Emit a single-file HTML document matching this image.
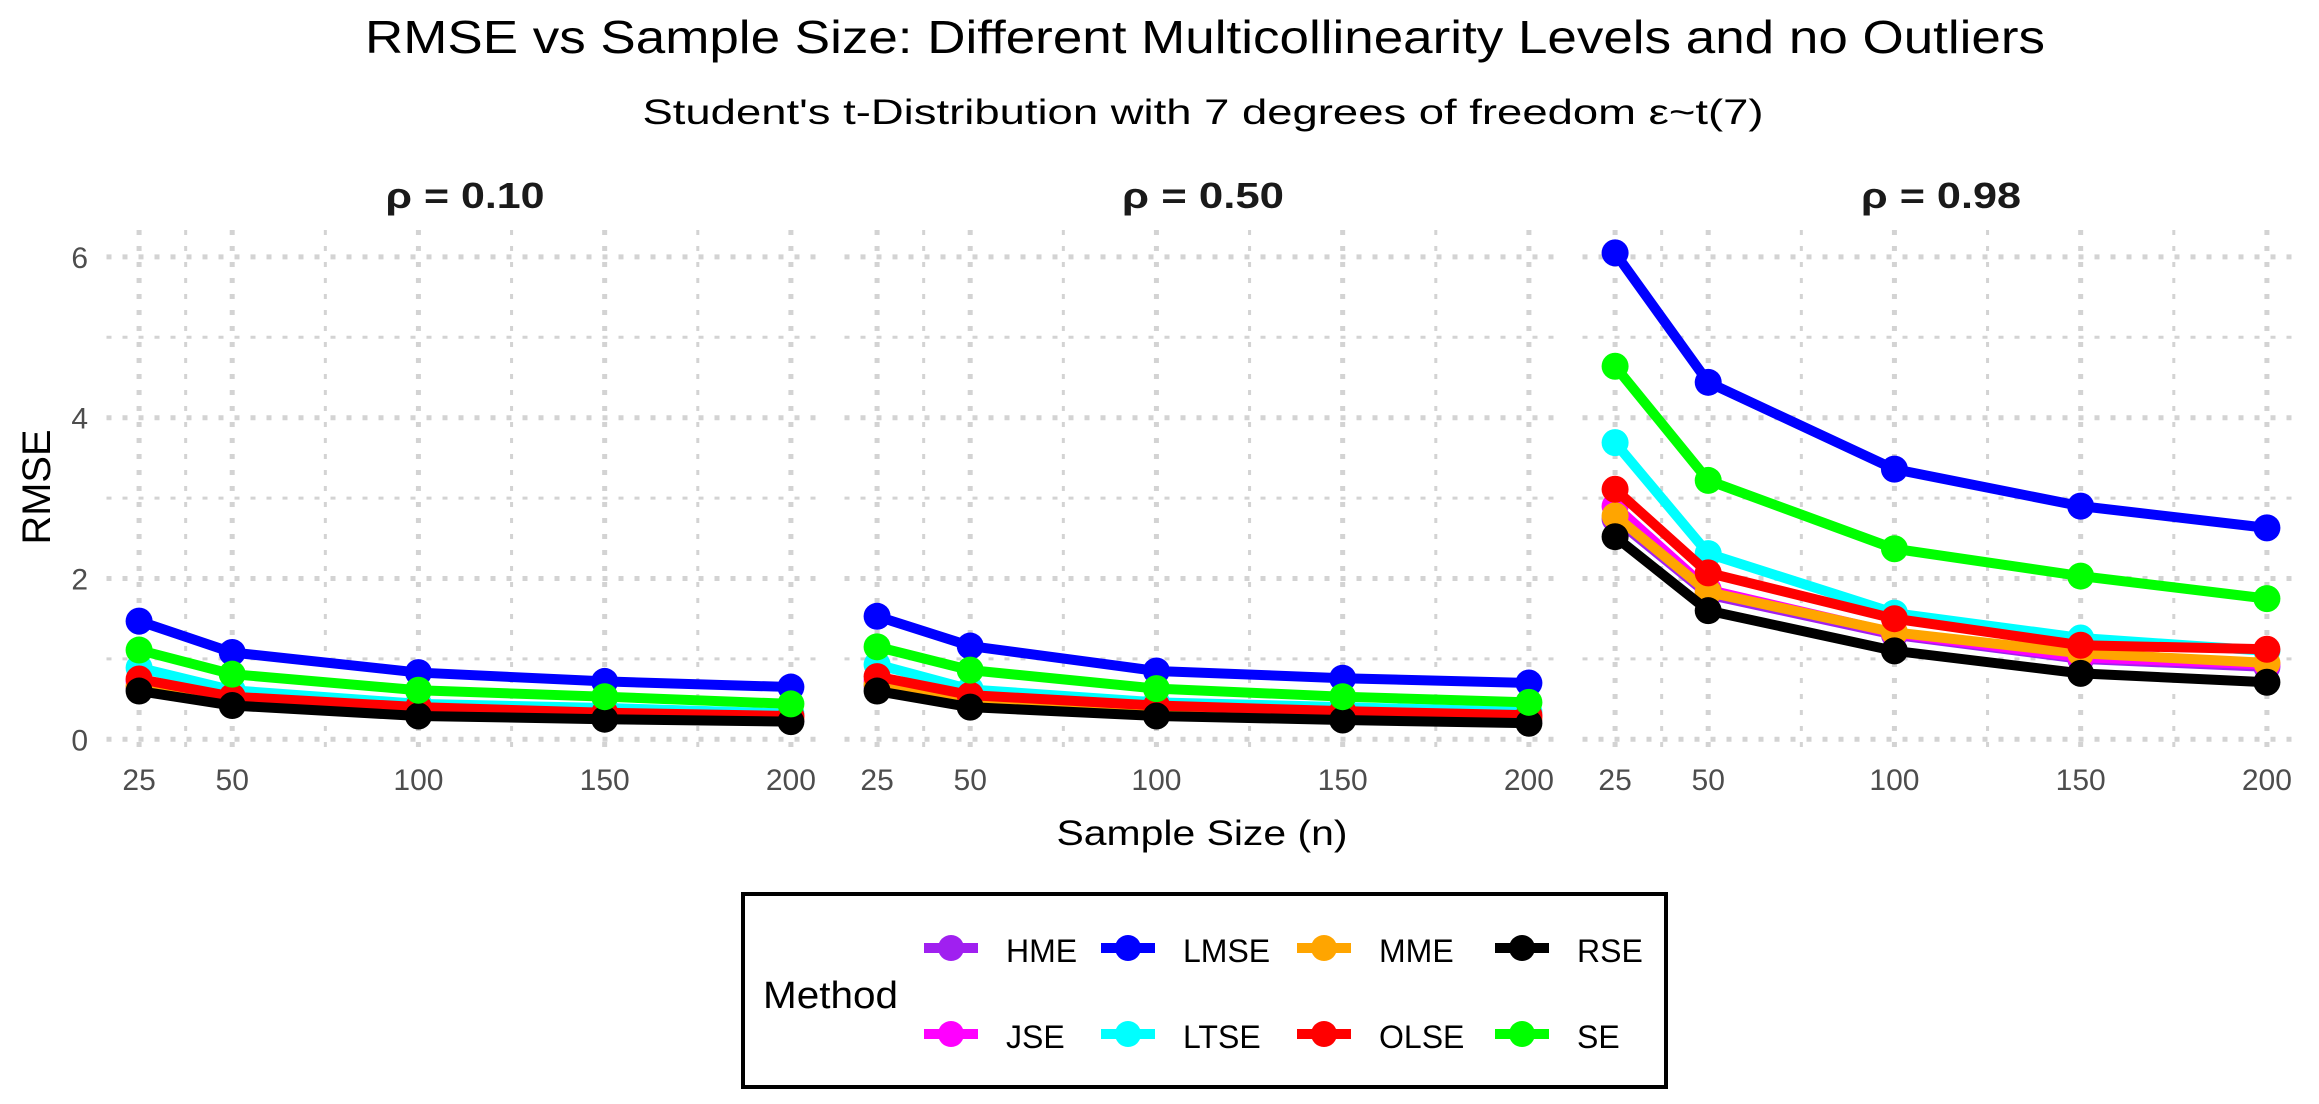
<!DOCTYPE html>
<html><head><meta charset="utf-8"><style>
html,body{margin:0;padding:0;background:#fff;}
svg{display:block;font-family:"Liberation Sans",sans-serif;}
</style></head><body>
<svg id="chart" width="2319" height="1104" viewBox="0 0 2319 1104" xmlns="http://www.w3.org/2000/svg">
<text x="1205" y="53" font-size="46" text-anchor="middle" textLength="1680" lengthAdjust="spacingAndGlyphs" fill="#000">RMSE vs Sample Size: Different Multicollinearity Levels and no Outliers</text>
<text x="1203" y="124" font-size="35" text-anchor="middle" textLength="1121" lengthAdjust="spacingAndGlyphs" fill="#000">Student's t-Distribution with 7 degrees of freedom ε~t(7)</text>
<text x="50" y="487" font-size="40" text-anchor="middle" textLength="115" lengthAdjust="spacingAndGlyphs" transform="rotate(-90 50 487)">RMSE</text>
<text x="1202" y="845" font-size="35" text-anchor="middle" textLength="291" lengthAdjust="spacingAndGlyphs">Sample Size (n)</text>
<g id="panels"></g>
<g>
<rect x="743" y="894" width="923" height="193" fill="#fff" stroke="#000" stroke-width="4"/>
<text x="763" y="1008" font-size="38" textLength="135" lengthAdjust="spacingAndGlyphs">Method</text>
<g id="legend-items"></g>
</g>
</svg>
<script>
const sizes = [25, 50, 100, 150, 200];
const methods = ["HME","JSE","LMSE","LTSE","MME","OLSE","RSE","SE"];
const colors = ["#a020f0","#ff00ff","#0000ff","#00ffff","#ffa500","#ff0000","#000000","#00ff00"];
const panelLabels = ["ρ = 0.10","ρ = 0.50","ρ = 0.98"];
const yTicks = [0,2,4,6];
const xTicks = [25,50,100,150,200];
const p010 = [
 [0.64,0.44,0.31,0.27,0.24],
 [0.72,0.47,0.36,0.32,0.29],
 [1.47,1.08,0.83,0.72,0.65],
 [0.89,0.61,0.44,0.39,0.32],
 [0.66,0.45,0.33,0.29,0.26],
 [0.75,0.53,0.40,0.33,0.29],
 [0.60,0.42,0.29,0.25,0.22],
 [1.11,0.81,0.61,0.53,0.44]];
const p050 = [
 [0.66,0.45,0.34,0.29,0.25],
 [0.72,0.49,0.37,0.32,0.28],
 [1.53,1.16,0.85,0.76,0.70],
 [0.93,0.62,0.46,0.40,0.34],
 [0.68,0.46,0.35,0.30,0.26],
 [0.78,0.55,0.42,0.35,0.30],
 [0.60,0.40,0.29,0.24,0.20],
 [1.15,0.86,0.63,0.53,0.46]];
const p098 = [
 [2.74,1.80,1.30,1.00,0.90],
 [2.90,1.86,1.32,1.02,0.93],
 [6.05,4.44,3.36,2.90,2.63],
 [3.69,2.31,1.57,1.26,1.10],
 [2.78,1.83,1.33,1.07,0.95],
 [3.11,2.07,1.50,1.17,1.12],
 [2.52,1.60,1.10,0.82,0.71],
 [4.64,3.22,2.37,2.03,1.75]];
const panelData = [p010, p050, p098];

const NS="http://www.w3.org/2000/svg";
const panelLeft=[106.5,844.5,1582.5], panelW=717, pTop=230, pBottom=748;
const xMin=16.25, xMax=208.75;
function sx(p,v){return panelLeft[p]+(v-xMin)/(xMax-xMin)*panelW;}
function sy(v){return 739.3-v*80.4;}
function mk(tag,attrs,parent){const e=document.createElementNS(NS,tag);for(const k in attrs)e.setAttribute(k,attrs[k]);parent.appendChild(e);return e;}
const G=document.getElementById('panels');
const facetW=[159,162,160];
for(let p=0;p<3;p++){
  const g=mk('g',{},G);
  
  
  const grid=mk('g',{stroke:'#d3d3d3','stroke-dasharray':'5 11'},g);
  
  
  [0,1,2,3,4,5,6].forEach(v=>{mk('line',{x1:panelLeft[p],x2:panelLeft[p]+panelW,y1:sy(v),y2:sy(v),'stroke-width':v%2?3:5},grid);});
  [25,37.5,50,75,100,125,150,175,200].forEach(v=>{mk('line',{x1:sx(p,v),x2:sx(p,v),y1:pTop,y2:pBottom,'stroke-width':(xTicks.includes(v))?5:3},grid);});
  const st=mk('text',{x:panelLeft[p]+panelW/2,y:208,'font-size':36,'font-weight':'bold','text-anchor':'middle',fill:'#1a1a1a',textLength:facetW[p],lengthAdjust:'spacingAndGlyphs'},g);
  st.textContent=panelLabels[p];
  
  
  xTicks.forEach(v=>{const t=mk('text',{x:sx(p,v),y:790,'font-size':30,'text-anchor':'middle',fill:'#4d4d4d'},g);t.textContent=v;
    
    });
  if(p===0){yTicks.forEach(v=>{const t=mk('text',{x:88,y:sy(v)+11,'font-size':30,'text-anchor':'end',fill:'#4d4d4d'},g);t.textContent=v;
    
    });}
  panelData[p].forEach((vals,m)=>{
    const pts=vals.map((v,i)=>sx(p,sizes[i])+','+sy(v)).join(' ');
    const s=mk('g',{},g);
    
    
    mk('polyline',{points:pts,fill:'none',stroke:colors[m],'stroke-width':10,'stroke-linejoin':'round'},s);
    vals.forEach((v,i)=>{const c=mk('circle',{cx:sx(p,sizes[i]),cy:sy(v),r:13.5,fill:colors[m]},s);
      
      });
  });
}
const L=document.getElementById('legend-items');
const keyX=[951,1128,1324,1522], labX=[1006,1183,1379,1577], rowY=[948,1034];
for(let m=0;m<8;m++){
  const col=Math.floor(m/2), row=m%2;
  const g=mk('g',{},L);
  
  
  mk('line',{x1:keyX[col]-27,x2:keyX[col]+27,y1:rowY[row],y2:rowY[row],stroke:colors[m],'stroke-width':10},g);
  mk('circle',{cx:keyX[col],cy:rowY[row],r:13,fill:colors[m]},g);
  const t=mk('text',{x:labX[col],y:rowY[row]+14,'font-size':32},g);
  t.textContent=methods[m];
}
</script>
</body></html>
